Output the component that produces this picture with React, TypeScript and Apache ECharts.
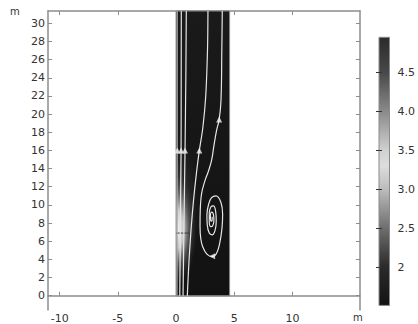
import React, { useEffect, useRef } from "react";
import * as echarts from "echarts";

// ---- data ----
const xTicks = [-10, -5, 0, 5, 10];
const yTicks = [0, 2, 4, 6, 8, 10, 12, 14, 16, 18, 20, 22, 24, 26, 28, 30];
const colorTicks = [2, 2.5, 3, 3.5, 4, 4.5];
const colorTickLabels = ["2", "2.5", "3.0", "3.5", "4.0", "4.5"];
const colorRange = [1.51, 4.95];
// colormap: value -> gray level
const colorMapValues = [4.95, 4.5, 4.0, 3.5, 3.3, 3.0, 2.5, 2.0, 1.51];
const colorMapColors = ["#2b2b2b", "#484848", "#8a8a8a", "#d0d0d0", "#dddddd", "#bcbcbc", "#6e6e6e", "#2a2a2a", "#131313"];

// domain rectangle: [x0, y0, x1, y1]
const domain = [[0, 0, 4.6, 31.35]];
// glow near left wall: [xCenter, yCenter, xRadius, yRadius]
const glows = [
  [0, 9.5, 2.0, 8.5],
  [0, 7.3, 1.7, 6.2],
];

const line1 = [[0.1, 31.35], [0.1, 16], [0.08, 0]];
const line2 = [[0.45, 31.35], [0.44, 22], [0.43, 16], [0.37, 8], [0.32, 0]];
const line3 = [[0.88, 31.35], [0.84, 24], [0.77, 16], [0.68, 8], [0.6, 0]];
const line4 = [
  [2.74, 31.35], [2.7, 27], [2.55, 22], [2.3, 18.5], [2.0, 16], [1.75, 13.5],
  [1.5, 10.5], [1.3, 7.5], [1.12, 4], [1.0, 1], [0.97, 0],
];
const line5 = [
  [3.97, 31.35], [3.93, 27], [3.86, 21.5], [3.7, 19.4], [3.48, 18.2], [3.25, 16.5],
  [3.05, 14.9], [2.75, 13.6], [2.49, 12.7], [2.2, 11.3], [2.08, 9.5], [2.06, 7.6],
  [2.12, 6.3], [2.29, 5.4], [2.63, 4.6], [3.06, 4.3], [3.45, 4.6], [3.75, 5.8],
  [3.95, 7.5], [4.0, 9.0], [3.85, 10.3], [3.43, 11.0], [3.05, 10.8], [2.8, 10.1],
  [2.65, 8.9], [2.68, 7.8], [2.85, 6.9], [3.1, 6.7], [3.35, 7.2], [3.45, 8.2],
  [3.4, 9.3], [3.2, 9.9], [3.0, 9.8], [2.85, 9.1], [2.85, 8.2], [3.0, 7.6],
  [3.15, 7.7], [3.25, 8.3], [3.2, 9.0], [3.05, 9.2], [2.95, 8.7], [3.0, 8.2],
  [3.1, 8.3], [3.1, 8.7],
];
const divider = [[0, 6.9], [1.2, 6.9]];
// arrows: [x, y, rotation deg]
const arrows = [
  [0.11, 16, 0], [0.43, 16, 0], [0.77, 16, 0], [2.0, 16, 0], [3.7, 19.4, 0], [3.1, 4.35, 90],
];

const FONT = "DejaVu Sans";
const AXIS_GRAY = "#8c8c8c";
const TEXT = "#333";

export default function App() {
  const ref = useRef<HTMLDivElement>(null);
  useEffect(() => {
    if (!ref.current) return;
    const chart = echarts.init(ref.current, undefined, { renderer: "svg" });
    const span = colorRange[1] - colorRange[0];
    const cbStops = colorMapValues.map((v, i) => ({
      offset: (colorRange[1] - v) / span,
      color: colorMapColors[i],
    }));
    const streamStyle = (color: string) => ({
      type: "line",
      xAxisIndex: 0,
      yAxisIndex: 0,
      showSymbol: false,
      smooth: 0.3,
      silent: true,
      lineStyle: { color, width: 1.2 },
      z: 3,
    });
    const option: any = {
      animation: false,
      backgroundColor: "#fff",
      textStyle: { fontFamily: FONT },
      grid: [
        { left: 48, right: 58, top: 11, bottom: 14 },
        { left: 379, width: 15, top: 33.4, height: 272.8 },
      ],
      xAxis: [
        {
          type: "value", gridIndex: 0, position: "bottom", min: -11, max: 15.8,
          axisLine: { lineStyle: { color: AXIS_GRAY, width: 1.5 } },
          axisTick: { inside: true, length: 4, customValues: xTicks, lineStyle: { color: AXIS_GRAY } },
          axisLabel: { customValues: xTicks, color: TEXT, fontSize: 11, margin: 3, fontFamily: FONT },
          splitLine: { show: false },
        },
        {
          type: "value", gridIndex: 0, position: "top", min: -11, max: 15.8,
          axisLine: { onZero: false, lineStyle: { color: AXIS_GRAY, width: 1.5 } },
          axisTick: { inside: true, length: 4, customValues: xTicks, lineStyle: { color: AXIS_GRAY } },
          axisLabel: { show: false },
          splitLine: { show: false },
        },
        { type: "value", gridIndex: 1, min: 0, max: 1, show: false },
      ],
      yAxis: [
        {
          type: "value", gridIndex: 0, position: "left", min: -1.57, max: 31.35,
          axisLine: { onZero: false, lineStyle: { color: AXIS_GRAY, width: 1.5 } },
          axisTick: { inside: true, length: 4, customValues: yTicks, lineStyle: { color: AXIS_GRAY } },
          axisLabel: { customValues: yTicks, color: TEXT, fontSize: 11, margin: 3, fontFamily: FONT },
          splitLine: { show: false },
        },
        {
          type: "value", gridIndex: 0, position: "right", min: -1.57, max: 31.35,
          axisLine: { onZero: false, lineStyle: { color: AXIS_GRAY, width: 1.5 } },
          axisTick: { inside: true, length: 4, customValues: yTicks, lineStyle: { color: AXIS_GRAY } },
          axisLabel: { show: false },
          splitLine: { show: false },
        },
        {
          type: "value", gridIndex: 1, position: "right", min: 1.5, max: 5,
          axisLine: { show: false },
          axisTick: { inside: true, length: 3, customValues: colorTicks, lineStyle: { color: "#333" } },
          axisLabel: {
            customValues: colorTicks, color: TEXT, fontSize: 11, margin: 8, fontFamily: FONT,
            formatter: (v: number) => {
              const i = colorTicks.findIndex((t) => Math.abs(t - v) < 1e-6);
              return i >= 0 ? colorTickLabels[i] : "";
            },
          },
          splitLine: { show: false },
          z: 5,
        },
        {
          type: "value", gridIndex: 1, position: "left", min: 1.5, max: 5,
          axisLine: { show: false },
          axisTick: { inside: true, length: 3, customValues: colorTicks, lineStyle: { color: "#333" } },
          axisLabel: { show: false },
          splitLine: { show: false },
          z: 5,
        },
      ],
      graphic: [
        { type: "text", left: 10, top: 6, style: { text: "m", fontSize: 10, fill: TEXT, fontFamily: FONT } },
        { type: "text", left: 353, top: 312, style: { text: "m", fontSize: 10, fill: TEXT, fontFamily: FONT } },
      ],
      series: [
        {
          type: "custom",
          xAxisIndex: 0,
          yAxisIndex: 0,
          silent: true,
          z: 1,
          data: domain,
          renderItem: (params: any, api: any) => {
            const p0 = api.coord([api.value(0), api.value(1)]);
            const p1 = api.coord([api.value(2), api.value(3)]);
            const x = p0[0], y = p1[1], w = p1[0] - p0[0], h = p0[1] - p1[1];
            const children: any[] = [
              {
                type: "rect",
                shape: { x, y, width: w, height: h },
                style: {
                  fill: new echarts.graphic.LinearGradient(0, 0, 0, 1, [
                    { offset: 0, color: "#1a1a1a" },
                    { offset: 1, color: "#121212" },
                  ]),
                  stroke: "#8a8a8a",
                  lineWidth: 1,
                },
              },
            ];
            glows.forEach((g, gi) => {
              const c = api.coord([g[0], g[1]]);
              const rx = api.size([g[2], 0])[0];
              const ry = api.size([0, g[3]])[1];
              const strong = gi === 1;
              children.push({
                type: "rect",
                shape: { x: c[0] + 0.5, y: c[1] - ry, width: 2 * rx, height: 2 * ry },
                style: {
                  fill: new echarts.graphic.RadialGradient(0, 0.5, 0.5, strong
                    ? [
                        { offset: 0, color: "rgba(252,252,252,1)" },
                        { offset: 0.35, color: "rgba(225,225,225,0.85)" },
                        { offset: 0.65, color: "rgba(140,140,140,0.4)" },
                        { offset: 1, color: "rgba(60,60,60,0)" },
                      ]
                    : [
                        { offset: 0, color: "rgba(215,215,215,0.6)" },
                        { offset: 0.45, color: "rgba(130,130,130,0.25)" },
                        { offset: 1, color: "rgba(60,60,60,0)" },
                      ]),
                },
              });
            });
            return { type: "group", children };
          },
        },
        { ...streamStyle("#a8a8a8"), data: line1 },
        { ...streamStyle("#e6e6e6"), data: line2 },
        { ...streamStyle("#e6e6e6"), data: line3 },
        { ...streamStyle("#e6e6e6"), data: line4 },
        { ...streamStyle("#e6e6e6"), data: line5, smooth: 0.4 },
        {
          type: "line", xAxisIndex: 0, yAxisIndex: 0, showSymbol: false, silent: true,
          lineStyle: { color: "#3c3c3c", width: 1 }, data: divider, z: 2,
        },
        {
          type: "scatter", xAxisIndex: 0, yAxisIndex: 0, silent: true,
          symbol: "triangle", symbolSize: 6,
          symbolRotate: (v: number[]) => v[2],
          itemStyle: { color: "#f2f2f2" },
          data: arrows, z: 4,
        },
        {
          type: "custom",
          xAxisIndex: 2,
          yAxisIndex: 2,
          silent: true,
          z: 1,
          data: [[0, colorRange[0], 1, colorRange[1]]],
          renderItem: (params: any, api: any) => {
            const p0 = api.coord([api.value(0), api.value(1)]);
            const p1 = api.coord([api.value(2), api.value(3)]);
            return {
              type: "rect",
              shape: { x: p0[0], y: p1[1], width: p1[0] - p0[0], height: p0[1] - p1[1] },
              style: {
                fill: new echarts.graphic.LinearGradient(0, 0, 0, 1, cbStops),
                stroke: "#8a8a8a",
                lineWidth: 1,
              },
            };
          },
        },
      ],
    };
    chart.setOption(option);
    return () => chart.dispose();
  }, []);
  return (
    <div
      ref={ref}
      style={{ position: "absolute", left: 0, top: 0, width: 418, height: 324 }}
    />
  );
}
